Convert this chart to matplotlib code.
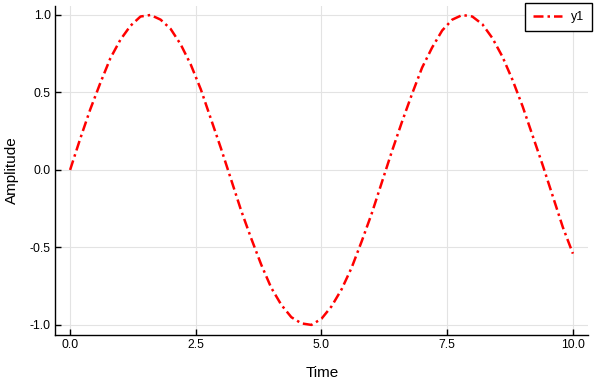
import matplotlib
matplotlib.use("Agg")
import matplotlib.pyplot as plt

plt.rcParams['font.family'] = ['Liberation Sans', 'DejaVu Sans']

time = [0.0, 0.2, 0.4, 0.6, 0.8, 1.0, 1.2, 1.4, 1.6, 1.8,
        2.0, 2.2, 2.4, 2.6, 2.8, 3.0, 3.2, 3.4, 3.6, 3.8,
        4.0, 4.2, 4.4, 4.6, 4.8, 5.0, 5.2, 5.4, 5.6, 5.8,
        6.0, 6.2, 6.4, 6.6, 6.8, 7.0, 7.2, 7.4, 7.6, 7.8,
        8.0, 8.2, 8.4, 8.6, 8.8, 9.0, 9.2, 9.4, 9.6, 9.8, 10.0]
amplitude = [0.00, 0.20, 0.39, 0.56, 0.72, 0.84, 0.93, 0.99, 1.00, 0.97,
             0.91, 0.81, 0.68, 0.52, 0.33, 0.14, -0.06, -0.26, -0.44, -0.61,
             -0.76, -0.87, -0.95, -0.99, -1.00, -0.96, -0.88, -0.77, -0.63, -0.46,
             -0.28, -0.08, 0.12, 0.31, 0.49, 0.66, 0.79, 0.90, 0.97, 1.00,
             0.99, 0.94, 0.85, 0.73, 0.58, 0.41, 0.22, 0.03, -0.17, -0.37, -0.54]
series_label = "y1"
xticks = [0.0, 2.5, 5.0, 7.5, 10.0]
yticks = [-1.0, -0.5, 0.0, 0.5, 1.0]

fig = plt.figure(figsize=(6.0, 3.84), dpi=100)
ax = fig.add_axes([55/600, 1 - 335/384, (588-55)/600, (335-6)/384])

ax.plot(time, amplitude, color='red', linewidth=1.8, dashes=(4, 1.6, 1, 1.6),
        label=series_label)

ax.set_xlim(-0.3, 10.3)
ax.set_ylim(-1.065, 1.058)
ax.set_xticks(xticks)
ax.set_xticklabels([f"{t:.1f}" for t in xticks])
ax.set_yticks(yticks)
ax.set_yticklabels([f"{t:.1f}" for t in yticks])
ax.grid(True, color='#e3e3e3', linewidth=0.8)
ax.set_axisbelow(True)
for s in ['top', 'right']:
    ax.spines[s].set_visible(False)
for s in ['left', 'bottom']:
    ax.spines[s].set_linewidth(1.0)
ax.tick_params(direction='in', length=4, width=1, labelsize=8.8, pad=3)
ax.set_xlabel("Time", fontsize=11)
ax.set_ylabel("Amplitude", fontsize=11)
ax.xaxis.set_label_coords(322/600, 1 - 373/384, transform=fig.transFigure)
ax.xaxis.label.set_verticalalignment('center')
ax.yaxis.set_label_coords(12/600, 1 - 170/384, transform=fig.transFigure)
ax.yaxis.label.set_verticalalignment('center')

leg = ax.legend(loc='upper right', fontsize=9, frameon=True, fancybox=False,
                framealpha=1, edgecolor='black', handlelength=2.3,
                handletextpad=0.7, borderpad=0.65, borderaxespad=0,
                bbox_to_anchor=(592/600, 1 - 3/384),
                bbox_transform=fig.transFigure)
leg.get_frame().set_linewidth(1.0)

fig.savefig("out.png", dpi=100)
